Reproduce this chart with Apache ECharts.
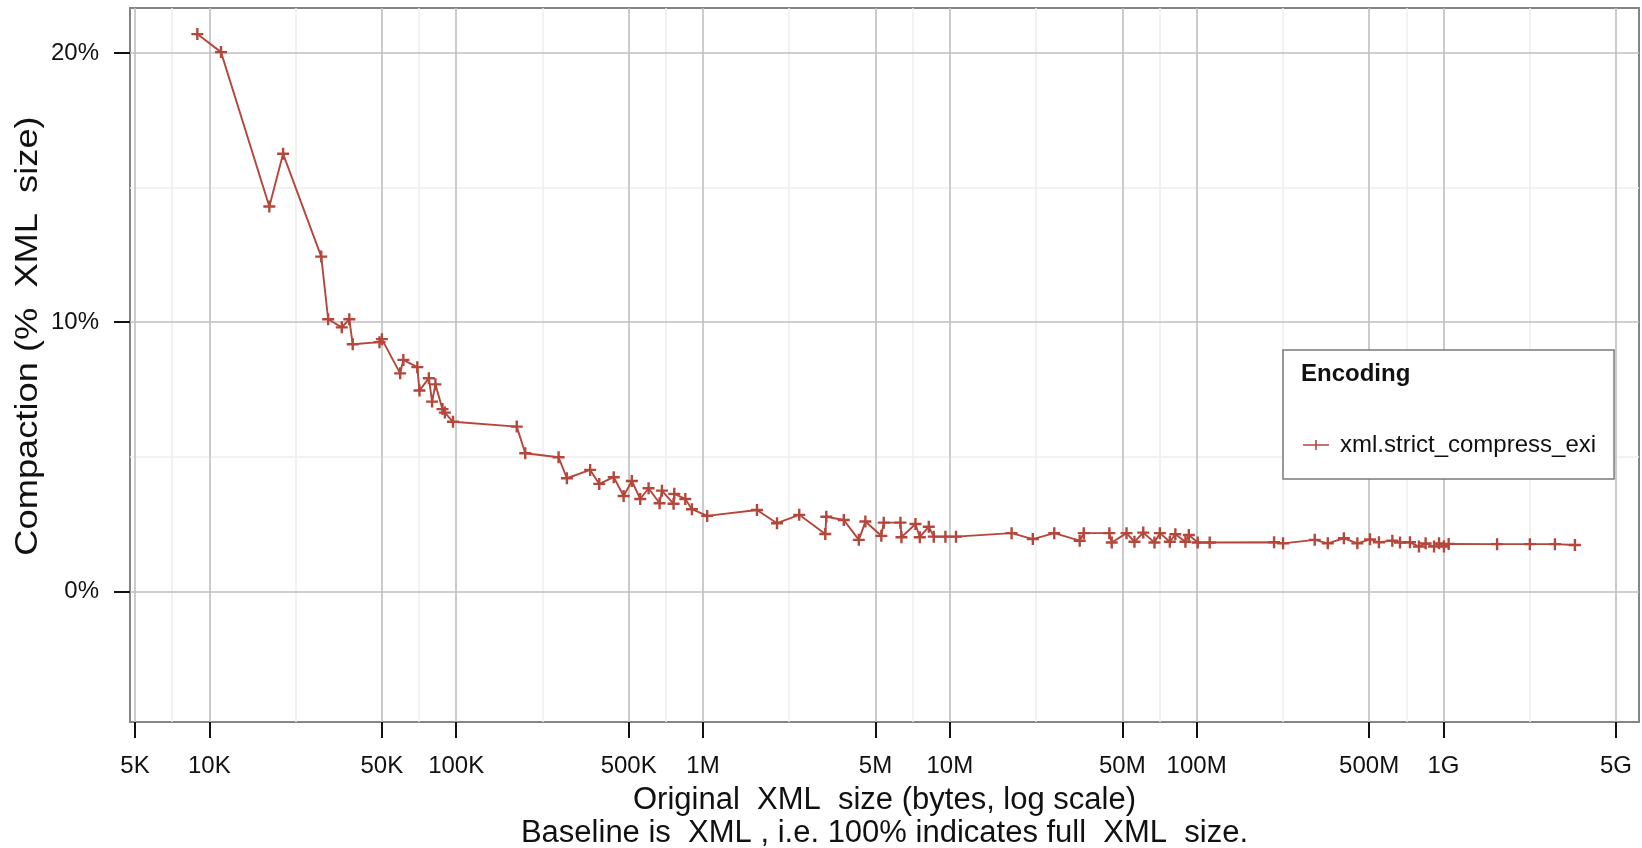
<!DOCTYPE html>
<html>
<head>
<meta charset="utf-8">
<script src="https://cdn.jsdelivr.net/npm/echarts@6/dist/echarts.min.js"></script>
<style>
  html, body { margin: 0; padding: 0; background: #fff; }
  #chart { width: 1642px; height: 848px; }
</style>
</head>
<body>
<div id="chart"></div>
<script>
// ---- data ----
const seriesName = 'xml.strict_compress_exi';
const legendTitle = 'Encoding';

// original XML size in bytes
const sizes = [
  8.94e3, 11.15e3, 17.5e3, 19.9e3, 28.4e3, 30.3e3, 34.4e3, 36.9e3, 38.1e3, 48.9e3,
  50e3, 59.3e3, 61.1e3, 69.6e3, 71e3, 77.5e3, 79.9e3, 82.4e3, 88e3, 90e3, 97.1e3,
  176e3, 190.5e3, 260e3, 281e3, 349e3, 380e3, 435e3, 477e3, 515e3, 557e3, 602e3,
  667e3, 682e3, 760e3, 765e3, 848e3, 902e3, 1.04e6,
  1.655e6, 1.995e6, 2.455e6, 3.13e6, 3.16e6, 3.72e6, 4.28e6, 4.55e6, 5.28e6, 5.40e6,
  6.31e6, 6.37e6, 7.26e6, 7.56e6, 8.22e6, 8.61e6, 9.60e6, 10.6e6,
  17.8e6, 21.7e6, 26.5e6, 33.6e6, 34.9e6, 44.3e6, 45.3e6, 52e6, 56e6, 60.8e6,
  67.5e6, 71e6, 77.9e6, 82e6, 90.1e6, 93e6, 101e6, 113e6,
  206e6, 224e6, 301e6, 340e6, 395e6, 448e6, 504e6, 548e6, 621e6, 667e6, 732e6,
  796e6, 847e6, 916e6, 960e6, 1.005e9, 1.05e9, 1.65e9, 2.24e9, 2.83e9, 3.41e9
];

// compaction, % of XML size
const compaction = [
  20.71, 20.04, 14.30, 16.26, 12.44, 10.11, 9.81, 10.11, 9.18, 9.26,
  9.37, 8.10, 8.60, 8.33, 7.46, 7.92, 7.05, 7.69, 6.77, 6.64, 6.30,
  6.12, 5.13, 4.98, 4.20, 4.51, 3.99, 4.24, 3.54, 4.10, 3.43, 3.83,
  3.27, 3.74, 3.25, 3.62, 3.43, 3.05, 2.80,
  3.02, 2.53, 2.84, 2.13, 2.77, 2.65, 1.91, 2.59, 2.06, 2.55,
  2.55, 2.01, 2.50, 2.01, 2.40, 2.03, 2.03, 2.03,
  2.16, 1.94, 2.16, 1.88, 2.16, 2.16, 1.81, 2.16, 1.84, 2.18,
  1.81, 2.16, 1.84, 2.12, 1.84, 2.09, 1.81, 1.81,
  1.82, 1.78, 1.91, 1.78, 1.97, 1.78, 1.93, 1.82, 1.88, 1.81, 1.82,
  1.66, 1.78, 1.66, 1.78, 1.66, 1.76, 1.75, 1.75, 1.75, 1.72
];

// tick labels
const xTickValues = [5e3, 1e4, 5e4, 1e5, 5e5, 1e6, 5e6, 1e7, 5e7, 1e8, 5e8, 1e9, 5e9];
const xTickLabels = ['5K', '10K', '50K', '100K', '500K', '1M', '5M', '10M', '50M', '100M', '500M', '1G', '5G'];
const xMinorValues = [7071, 22361, 70711, 223607, 707107, 2236068, 7071068, 22360680, 70710678, 223606798, 707106781, 2236067977];
const yTickValues = [0, 10, 20];
const yTickLabels = ['0%', '10%', '20%'];
const yMinorValues = [5, 15];

const xTitle = 'Original  XML  size (bytes, log scale)\nBaseline is  XML , i.e. 100% indicates full  XML  size.';
const yTitle = 'Compaction (%  XML  size)';

// ---- chart ----
const FONT = '"Liberation Sans", Arial, Helvetica, sans-serif';
const RED = '#b5463b';
const pairs = sizes.map((s, i) => [s, compaction[i]]);
const xLabelMap = {};
xTickValues.forEach((v, i) => { xLabelMap[v] = xTickLabels[i]; });
const yLabelMap = {};
yTickValues.forEach((v, i) => { yLabelMap[v] = yTickLabels[i]; });

const X_MIN = 4770, X_MAX = 6.2e9, Y_MIN = -4.86, Y_MAX = 21.68;

const chart = echarts.init(document.getElementById('chart'), null, { renderer: 'canvas' });
chart.setOption({
  animation: false,
  backgroundColor: '#ffffff',
  grid: {
    left: 130, right: 3, top: 8, bottom: 126,
    containLabel: false, outerBoundsMode: 'none',
    show: true, borderColor: '#858585', borderWidth: 2, backgroundColor: 'transparent'
  },
  xAxis: [
    {
      type: 'log', logBase: 10, min: X_MIN, max: X_MAX, z: 2,
      position: 'bottom',
      axisLine: { show: false, onZero: false },
      axisTick: { show: true, customValues: xTickValues, length: 16, inside: false,
                  lineStyle: { color: '#111', width: 2 } },
      axisLabel: { show: true, customValues: xTickValues, margin: 32,
                   formatter: v => xLabelMap[v] || '', color: '#111', fontSize: 24, fontFamily: FONT },
      splitLine: { show: true, lineStyle: { color: '#bfbfbf', width: 1.6 } },
      name: xTitle, nameLocation: 'middle', nameGap: 62,
      nameTextStyle: { fontSize: 31, lineHeight: 33, color: '#111', fontFamily: FONT }
    },
    {
      type: 'log', logBase: 10, min: X_MIN, max: X_MAX, z: 1,
      position: 'bottom',
      axisLine: { show: false, onZero: false },
      axisTick: { show: false, customValues: xMinorValues },
      axisLabel: { show: false, customValues: xMinorValues },
      splitLine: { show: true, lineStyle: { color: '#eeeeee', width: 1.5 } }
    }
  ],
  yAxis: [
    {
      type: 'value', min: Y_MIN, max: Y_MAX, z: 2,
      axisLine: { show: false, onZero: false },
      axisTick: { show: true, customValues: yTickValues, length: 16,
                  lineStyle: { color: '#111', width: 2 } },
      axisLabel: { show: true, customValues: yTickValues, margin: 31,
                   formatter: v => yLabelMap[v] || '', color: '#111', fontSize: 24, fontFamily: FONT },
      splitLine: { show: true, lineStyle: { color: '#bfbfbf', width: 1.6 } }
    },
    {
      type: 'value', min: Y_MIN, max: Y_MAX, z: 1,
      axisLine: { show: false, onZero: false },
      axisTick: { show: false, customValues: yMinorValues },
      axisLabel: { show: false, customValues: yMinorValues },
      splitLine: { show: true, lineStyle: { color: '#eeeeee', width: 1.5 } }
    }
  ],
  legend: {
    show: true,
    left: 1283, top: 350,
    orient: 'vertical',
    padding: [83, 18, 22, 20],
    backgroundColor: '#ffffff',
    borderColor: '#7a7a7a', borderWidth: 1.5, borderRadius: 0,
    itemWidth: 26, itemHeight: 10,
    data: [{ name: seriesName, icon: 'path://M0,5.2H26V6.8H0Z M12.2,1H13.8V11H12.2Z' }],
    textStyle: { fontSize: 24, color: '#111', fontFamily: FONT, padding: [0, 0, 0, 6] },
    z: 10
  },
  graphic: [
    {
      type: 'text', left: 1301, top: 362, z: 100,
      style: { text: legendTitle, fill: '#111', font: 'bold 24px ' + FONT }
    },
    {
      type: 'text', x: 28, y: 336, rotation: Math.PI / 2, scaleX: 1.17, z: 100,
      style: { text: yTitle, fill: '#111', font: '31px ' + FONT,
               textAlign: 'center', textVerticalAlign: 'middle' }
    }
  ],
  series: [
    {
      name: seriesName,
      type: 'line',
      xAxisIndex: 0, yAxisIndex: 0,
      data: pairs,
      symbol: 'path://M4.8,0H7.2V4.8H12V7.2H7.2V12H4.8V7.2H0V4.8H4.8Z',
      symbolSize: 12,
      showSymbol: true,
      itemStyle: { color: RED },
      lineStyle: { color: RED, width: 1.9 },
      z: 5
    }
  ]
});
</script>
</body>
</html>
